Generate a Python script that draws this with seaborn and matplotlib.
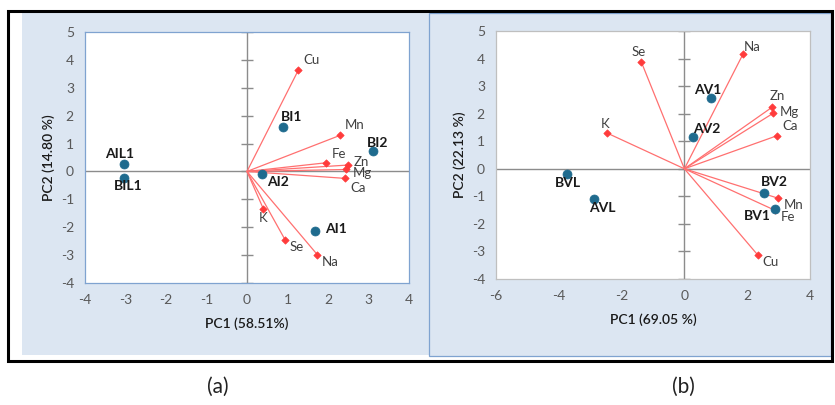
import seaborn as sns
import matplotlib.pyplot as plt
import pandas as pd
from matplotlib.patches import Rectangle

# panel (a) loadings and scores
a_vars = ['Cu', 'Mn', 'Fe', 'Zn', 'Mg', 'Ca', 'K', 'Se', 'Na']
a_var_pc1 = [1.27, 2.29, 1.95, 2.50, 2.45, 2.43, 0.40, 0.94, 1.74]
a_var_pc2 = [3.64, 1.29, 0.31, 0.23, 0.07, -0.25, -1.33, -2.45, -2.99]
a_samples = ['BI1', 'BI2', 'AIL1', 'BIL1', 'AI2', 'AI1']
a_samp_pc1 = [0.88, 3.10, -3.03, -3.03, 0.38, 1.69]
a_samp_pc2 = [1.61, 0.75, 0.26, -0.23, -0.10, -2.13]

# panel (b) loadings and scores
b_vars = ['Se', 'Na', 'Zn', 'Mg', 'Ca', 'K', 'Mn', 'Fe', 'Cu']
b_var_pc1 = [-1.37, 1.87, 2.80, 2.82, 2.95, -2.45, 2.99, 2.89, 2.33]
b_var_pc2 = [3.87, 4.17, 2.24, 2.01, 1.20, 1.29, -1.07, -1.51, -3.12]
b_samples = ['AV1', 'AV2', 'BVL', 'AVL', 'BV2', 'BV1']
b_samp_pc1 = [0.84, 0.28, -3.75, -2.88, 2.53, 2.88]
b_samp_pc2 = [2.58, 1.16, -0.20, -1.08, -0.89, -1.45]

# label offsets in pixels (dx, dy)
a_var_off = [(13, 10), (15, 10), (13, 9), (13, 3), (16, -4), (13, -10), (0, -9), (12, -7), (13, -7)]
a_samp_off = [(9, 10), (5, 8), (-5, 10), (4, -8), (16, -8), (21, 2)]
b_var_off = [(-3, 10), (9, 7), (5, 11), (16, 1), (13, 10), (-2, 9), (15, -7), (13, -7), (13, -7)]
b_samp_off = [(-3, 8), (14, 8), (1, -9), (8, -9), (11, 11), (-18, -7)]

sns.set_style('white')
plt.rcParams['font.family'] = ['Lato', 'DejaVu Sans']
plt.rcParams['axes.unicode_minus'] = False

W, H = 835, 405
fig = plt.figure(figsize=(W / 100, H / 100), dpi=100)


def box(x0, y0, x1, y1):
    return [x0 / W, 1 - y1 / H, (x1 - x0) / W, (y1 - y0) / H]


def rect(x0, y0, x1, y1, **kw):
    fig.add_artist(Rectangle((x0 / W, 1 - y1 / H), (x1 - x0) / W, (y1 - y0) / H,
                             transform=fig.transFigure, **kw))


rect(22, 13, 429, 355, facecolor='#DCE6F2', edgecolor='none', zorder=0)
rect(429, 13, 831, 356, facecolor='#DCE6F2', edgecolor='#7FA3D0', lw=0.9, zorder=0)
rect(8, 11, 832, 361, facecolor='none', edgecolor='black', lw=2.2, zorder=5)

red = '#FF3B3B'
blue = '#1F6B8E'


def biplot(ax, vars_, vx, vy, samps, sx, sy, voff, soff, xlim, xticks, xlabel, ylabel, frame):
    ax.set_facecolor('white')
    ax.axhline(0, color='#8C8C8C', lw=1, zorder=1)
    ax.axvline(0, color='#8C8C8C', lw=1, zorder=1)
    yt = list(range(-4, 6))
    ax.plot([0] * len(yt), yt, ls='none', marker='_', ms=9, mew=1, color='#8C8C8C', zorder=1)
    for x, y in zip(vx, vy):
        ax.plot([0, x], [0, y], color='#FF7070', lw=0.9, zorder=2)
    dv = pd.DataFrame({'pc1': vx, 'pc2': vy})
    sns.scatterplot(data=dv, x='pc1', y='pc2', ax=ax, marker='D', s=14, color=red,
                    edgecolor=red, linewidth=0.5, zorder=3)
    ds = pd.DataFrame({'pc1': sx, 'pc2': sy})
    sns.scatterplot(data=ds, x='pc1', y='pc2', ax=ax, marker='o', s=42, color=blue,
                    edgecolor=blue, linewidth=0.5, zorder=4)
    for name, x, y, (dx, dy) in zip(vars_, vx, vy, voff):
        ax.annotate(name, (x, y), xytext=(dx, dy), textcoords='offset pixels',
                    ha='center', va='center', fontsize=9.5, color='#404040', zorder=5)
    for name, x, y, (dx, dy) in zip(samps, sx, sy, soff):
        ax.annotate(name, (x, y), xytext=(dx, dy), textcoords='offset pixels',
                    ha='center', va='center', fontsize=10, fontweight='bold',
                    color='#1A1A1A', zorder=5)
    ax.set_xlim(*xlim)
    ax.set_ylim(-4, 5)
    ax.set_xticks(xticks)
    ax.set_yticks(yt)
    ax.tick_params(length=0, labelsize=10, labelcolor='#595959', pad=8)
    for s in ax.spines.values():
        s.set_visible(True)
        s.set_color(frame)
        s.set_linewidth(0.9)
    ax.set_xlabel(xlabel, fontsize=10, fontweight='semibold', color='#1A1A1A', labelpad=8)
    ax.set_ylabel(ylabel, fontsize=10, fontweight='semibold', color='#1A1A1A', labelpad=4)


ax1 = fig.add_axes(box(85, 32, 409, 283))
biplot(ax1, a_vars, a_var_pc1, a_var_pc2, a_samples, a_samp_pc1, a_samp_pc2,
       a_var_off, a_samp_off, (-4, 4), range(-4, 5), 'PC1 (58.51%)', 'PC2 (14.80 %)', '#7FA3D0')

ax2 = fig.add_axes(box(496, 31, 810, 279))
biplot(ax2, b_vars, b_var_pc1, b_var_pc2, b_samples, b_samp_pc1, b_samp_pc2,
       b_var_off, b_samp_off, (-6, 4), range(-6, 5, 2), 'PC1 (69.05 %)', 'PC2 (22.13 %)', '#BFBFBF')

fig.text(218 / W, 1 - 387 / H, '(a)', ha='center', va='center', fontsize=15, color='#222222')
fig.text(683 / W, 1 - 387 / H, '(b)', ha='center', va='center', fontsize=15, color='#222222')

fig.savefig('out.png', dpi=100)
